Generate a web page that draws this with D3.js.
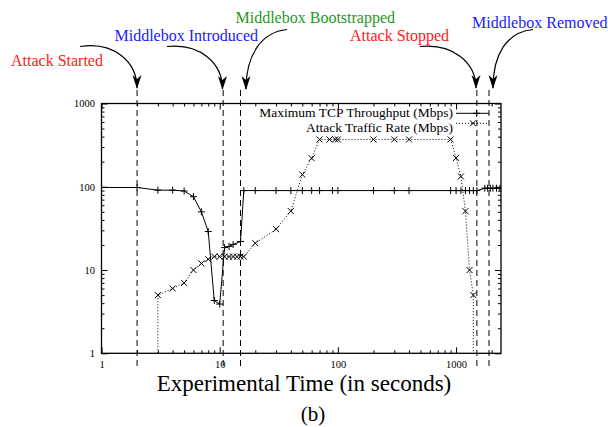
<!DOCTYPE html>
<html>
<head>
<meta charset="utf-8">
<script src="https://cdn.jsdelivr.net/npm/d3@7"></script>
<style>
  body { margin: 0; background: #fff; }
  svg, svg text { font-family: "Liberation Serif", "Times New Roman", Times, serif; }
</style>
</head>
<body>
<div id="chart"></div>
<script>
// Maximum TCP throughput (Mbps) over time (s)
const tcpTime = [1, 2, 3, 4, 5, 6, 7, 8, 9, 10, 11, 12, 13, 15, 16, 20, 30, 40, 50, 60, 70, 90, 100, 200, 300, 400, 900, 1000, 1100, 1200, 1300, 1400, 1500, 1750, 1850, 1950, 2050, 2200, 2350]
const tcpRate = [98, 98, 91, 91, 89, 76, 50, 29, 4.3, 3.9, 18.6, 19.2, 20.3, 22, 90, 90, 90, 90, 90, 90, 90, 90, 90, 90, 90, 90, 90, 90, 90, 90, 90, 90, 90, 96, 96, 96, 96, 96, 96]

// Attack traffic rate (Mbps) over time (s)
const attackTime = [3, 3, 4, 5, 6, 7, 8, 9, 10, 11, 12, 13, 14, 15, 16, 20, 30, 40, 50, 60, 70, 85, 95, 100, 200, 300, 400, 900, 1000, 1100, 1200, 1300, 1400, 1400]
const attackRate = [1, 5, 6, 7, 10, 12, 13.5, 14.5, 14.5, 14.5, 14.5, 14.5, 14.5, 14.5, 14.5, 21, 31, 51, 140, 220, 370, 370, 370, 370, 370, 370, 370, 370, 222, 133, 51, 10, 5, 1]

// Events marked with vertical lines
const eventTime = [2, 10.7, 15, 1500, 1900]
const eventLabel = ['Attack Started', 'Middlebox Introduced', 'Middlebox Bootstrapped', 'Attack Stopped', 'Middlebox Removed']
const eventColor = ['#ff2020', '#2020ff', '#1e9a1e', '#ff2020', '#2020ff']

// Axis ticks
const majorTicks = [1, 10, 100, 1000]
const seriesNames = ['Maximum TCP Throughput (Mbps)', 'Attack Traffic Rate (Mbps)']
const xTitle = 'Experimental Time (in seconds)'
const subTitle = '(b)'

const width = 608
const height = 427
const plot = { left: 101.5, right: 501, top: 103.5, bottom: 353.3 }
const serif = '"Liberation Serif", "Times New Roman", Times, serif'

const svg = d3.select('#chart')
  .append('svg')
  .attr('width', width)
  .attr('height', height)
  .attr('font-family', serif)

const x = d3.scaleLog().domain([1, 2400]).range([plot.left, plot.right])
const y = d3.scaleLog().domain([1, 1000]).range([plot.bottom, plot.top])

// minor ticks 2..9 in each decade
const minorX = d3.range(0, 4).flatMap(e => d3.range(2, 10).map(m => m * Math.pow(10, e))).filter(v => v < 2400)
const minorY = d3.range(0, 3).flatMap(e => d3.range(2, 10).map(m => m * Math.pow(10, e)))

const fmt = d => String(d)

// annotations: text anchor and arrow curves
const annot = [
  { tx: 11, ty: 65.5, path: 'M80,46.5 C114,41 137,62 137,88' },
  { tx: 114.5, ty: 41, path: 'M167,46.5 C200,43 222.5,63 222.5,89' },
  { tx: 235.5, ty: 22.5, path: 'M287,29.5 C262,32 246,54 246,89' },
  { tx: 350, ty: 40.5, path: 'M420,46.5 C452,43 476,62 476,88' },
  { tx: 472, ty: 28, path: 'M533,29.5 C507,32 493,54 493,88' }
]

const defs = svg.append('defs')
defs.append('clipPath').attr('id', 'clip')
  .append('rect')
  .attr('x', plot.left).attr('y', plot.top)
  .attr('width', plot.right - plot.left).attr('height', plot.bottom - plot.top)

defs.append('marker')
  .attr('id', 'head')
  .attr('markerUnits', 'userSpaceOnUse')
  .attr('viewBox', '-14 -6 16 12')
  .attr('markerWidth', 16).attr('markerHeight', 12)
  .attr('refX', 0).attr('refY', 0)
  .attr('orient', 'auto')
  .append('path')
  .attr('d', 'M1,0 L-13,-4.5 L-9,0 L-13,4.5 Z')
  .attr('fill', '#000')

// Axes (ticks point inward, mirrored)
const axisG = svg.append('g')
function styleAxis(g) {
  g.select('.domain').remove()
  g.selectAll('line').attr('stroke', '#000').attr('stroke-width', 1)
  g.attr('font-family', serif)
  g.selectAll('text').attr('font-size', '10.5px').attr('fill', '#000')
}
axisG.append('g').attr('transform', `translate(0,${plot.bottom})`)
  .call(d3.axisBottom(x).tickValues(majorTicks).tickFormat(fmt).tickSize(-6).tickPadding(7)).call(styleAxis)
axisG.append('g').attr('transform', `translate(0,${plot.bottom})`)
  .call(d3.axisBottom(x).tickValues(minorX).tickFormat('').tickSize(-3)).call(styleAxis)
axisG.append('g').attr('transform', `translate(0,${plot.top})`)
  .call(d3.axisTop(x).tickValues(majorTicks).tickFormat('').tickSize(-6)).call(styleAxis)
axisG.append('g').attr('transform', `translate(0,${plot.top})`)
  .call(d3.axisTop(x).tickValues(minorX).tickFormat('').tickSize(-3)).call(styleAxis)
axisG.append('g').attr('transform', `translate(${plot.left},0)`)
  .call(d3.axisLeft(y).tickValues(majorTicks).tickFormat(fmt).tickSize(-6).tickPadding(6.5)).call(styleAxis)
axisG.append('g').attr('transform', `translate(${plot.left},0)`)
  .call(d3.axisLeft(y).tickValues(minorY).tickFormat('').tickSize(-3)).call(styleAxis)
axisG.append('g').attr('transform', `translate(${plot.right},0)`)
  .call(d3.axisRight(y).tickValues(majorTicks).tickFormat('').tickSize(-6)).call(styleAxis)
axisG.append('g').attr('transform', `translate(${plot.right},0)`)
  .call(d3.axisRight(y).tickValues(minorY).tickFormat('').tickSize(-3)).call(styleAxis)

svg.append('rect')
  .attr('x', plot.left).attr('y', plot.top)
  .attr('width', plot.right - plot.left).attr('height', plot.bottom - plot.top)
  .attr('fill', 'none').attr('stroke', '#000').attr('stroke-width', 1.3)

// Event lines
svg.append('g').selectAll('line')
  .data(eventTime)
  .enter().append('line')
  .attr('x1', d => x(d)).attr('x2', d => x(d))
  .attr('y1', 90).attr('y2', 368)
  .attr('stroke', '#000').attr('stroke-width', 1)
  .attr('stroke-dasharray', '6,4')

// Series
const tcp = tcpTime.map((t, i) => ({ t, v: tcpRate[i] }))
const attack = attackTime.map((t, i) => ({ t, v: attackRate[i] }))
const line = d3.line().x(d => x(d.t)).y(d => y(d.v))
const data = svg.append('g').attr('clip-path', 'url(#clip)')

data.append('path').datum(tcp)
  .attr('d', line).attr('fill', 'none').attr('stroke', '#000').attr('stroke-width', 1)
data.append('path').datum(attack)
  .attr('d', line).attr('fill', 'none').attr('stroke', '#000').attr('stroke-width', 1)
  .attr('stroke-dasharray', '1,2')

const plus = (g, cx, cy) => g.append('path')
  .attr('d', `M${cx - 3.5},${cy}h7M${cx},${cy - 3.5}v7`)
  .attr('stroke', '#000').attr('stroke-width', 1).attr('fill', 'none')
const cross = (g, cx, cy) => g.append('path')
  .attr('d', `M${cx - 3},${cy - 3}l6,6M${cx - 3},${cy + 3}l6,-6`)
  .attr('stroke', '#000').attr('stroke-width', 1).attr('fill', 'none')

tcp.forEach(d => plus(data, x(d.t), y(d.v)))
attack.filter(d => d.v > 1).forEach(d => cross(data, x(d.t), y(d.v)))

// Legend
const legend = svg.append('g')
const legendY = [113.3, 123.3]
const legendText = [116.8, 131.8]
seriesNames.forEach((name, i) => {
  legend.append('text')
    .attr('x', 453).attr('y', legendText[i])
    .attr('text-anchor', 'end')
    .attr('font-size', '13.5px')
    .text(name)
  legend.append('line')
    .attr('x1', 456).attr('x2', 489)
    .attr('y1', legendY[i]).attr('y2', legendY[i])
    .attr('stroke', '#000').attr('stroke-width', 1)
    .attr('stroke-dasharray', i ? '1,2' : null)
  if (i) cross(legend, 473, legendY[i])
  else plus(legend, 476.5, legendY[i])
})

// Annotations
const ann = svg.append('g')
annot.forEach((a, i) => {
  ann.append('text')
    .attr('x', a.tx).attr('y', a.ty)
    .attr('font-size', '16px')
    .attr('fill', eventColor[i])
    .text(eventLabel[i])
  ann.append('path')
    .attr('d', a.path)
    .attr('fill', 'none').attr('stroke', '#000').attr('stroke-width', 1.2)
    .attr('marker-end', 'url(#head)')
})

// Titles
svg.append('text')
  .attr('x', 304).attr('y', 391)
  .attr('text-anchor', 'middle')
  .attr('font-size', '23px')
  .text(xTitle)
svg.append('text')
  .attr('x', 313).attr('y', 421)
  .attr('text-anchor', 'middle')
  .attr('font-size', '21px')
  .text(subTitle)
</script>
</body>
</html>
